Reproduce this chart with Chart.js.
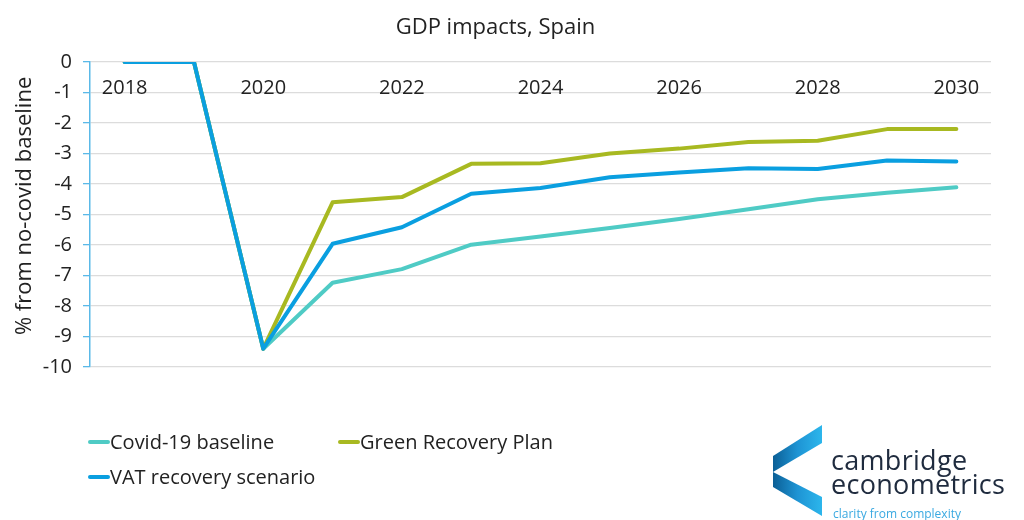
<!DOCTYPE html>
<html>
<head>
<meta charset="utf-8">
<script src="https://cdn.jsdelivr.net/npm/chart.js@4.4.0/dist/chart.umd.min.js"></script>
<style>
  html, body { margin: 0; padding: 0; background: #fff; }
  #wrap { position: relative; width: 1024px; height: 520px; overflow: hidden; font-family: "Open Sans", sans-serif; color: #222; }
  #wrap canvas { position: absolute; left: 0; top: 0; }
  .leg { position: absolute; display: flex; align-items: center; font-size: 20px; line-height: 24px; white-space: nowrap; }
  .leg i { display: inline-block; width: 22px; height: 4px; border-radius: 2px; }
  .logo-text { position: absolute; left: 831px; color: #1f2b3e; font-size: 27px; line-height: 28px; letter-spacing: 0.3px; white-space: nowrap; }
  .tagline { position: absolute; left: 833px; top: 506px; color: #3aa9e1; font-size: 12px; line-height: 16px; white-space: nowrap; }
</style>
</head>
<body>
<div id="wrap">
  <canvas id="gdpChart" width="1024" height="520"></canvas>

  <div class="leg" style="left:88px; top:430px;"><i style="background:#4fcbc5"></i>Covid-19 baseline</div>
  <div class="leg" style="left:338px; top:430px;"><i style="background:#a8b921"></i>Green Recovery Plan</div>
  <div class="leg" style="left:88px; top:465px;"><i style="background:#0a9fe0"></i>VAT recovery scenario</div>

  <svg style="position:absolute; left:770px; top:420px;" width="56" height="100" viewBox="0 0 56 100">
    <defs>
      <linearGradient id="g1" x1="0" y1="0" x2="1" y2="0">
        <stop offset="0" stop-color="#0b5f96"/>
        <stop offset="0.5" stop-color="#1e94d4"/>
        <stop offset="1" stop-color="#2cb6ec"/>
      </linearGradient>
    </defs>
    <polygon points="52,5 52,23 3,52 3,36" fill="url(#g1)"/>
    <polygon points="3,52 3,67 52,96 52,77" fill="url(#g1)"/>
  </svg>
  <div class="logo-text" style="top:446px;">cambridge</div>
  <div class="logo-text" style="top:470px;">econometrics</div>
  <div class="tagline">clarity from complexity</div>
</div>

<script>
var years = ['2018', '2019', '2020', '2021', '2022', '2023', '2024', '2025', '2026', '2027', '2028', '2029', '2030'];
var covidBaseline = [0, 0, -9.4, -7.24, -6.79, -5.99, -5.72, -5.44, -5.15, -4.83, -4.50, -4.29, -4.11];
var greenRecovery = [0, 0, -9.4, -4.60, -4.43, -3.34, -3.32, -3.00, -2.84, -2.62, -2.58, -2.20, -2.20];
var vatRecovery = [0, 0, -9.4, -5.96, -5.42, -4.32, -4.13, -3.78, -3.62, -3.48, -3.51, -3.23, -3.26];

var FONT = '"Open Sans", sans-serif';
var TEXT = '#222';

var ctx = document.getElementById('gdpChart').getContext('2d');

new Chart(ctx, {
    type: 'line',
    data: {
        labels: years,
        datasets: [{
            label: 'Covid-19 baseline',
            data: covidBaseline,
            borderColor: '#4fcbc5',
            order: 3
        }, {
            label: 'Green Recovery Plan',
            data: greenRecovery,
            borderColor: '#a8b921',
            order: 2
        }, {
            label: 'VAT recovery scenario',
            data: vatRecovery,
            borderColor: '#0a9fe0',
            order: 1
        }]
    },
    options: {
        responsive: false,
        animation: false,
        layout: {
            padding: { left: 0, right: 33, top: 0, bottom: 153 }
        },
        elements: {
            line: { borderWidth: 4, tension: 0, fill: false, borderCapStyle: 'round', borderJoinStyle: 'round' },
            point: { radius: 0, hoverRadius: 0 }
        },
        plugins: {
            legend: { display: false },
            tooltip: { enabled: false },
            title: {
                display: true,
                text: 'GDP impacts, Spain',
                color: TEXT,
                font: { family: FONT, size: 22, weight: 'normal' },
                padding: { top: 15, bottom: 20.6 }
            }
        },
        scales: {
            x: {
                type: 'category',
                position: { y: 0 },
                offset: true,
                grid: { display: false, drawTicks: false },
                border: { display: false },
                ticks: {
                    autoSkip: false,
                    maxRotation: 0,
                    color: TEXT,
                    padding: 14,
                    font: { family: FONT, size: 20 },
                    callback: function (v, i) { return i % 2 === 0 ? years[i] : ''; }
                }
            },
            y: {
                min: -10,
                max: 0,
                afterFit: function (scale) { scale.width = 90; },
                ticks: {
                    stepSize: 1,
                    color: TEXT,
                    padding: 11,
                    font: { family: FONT, size: 20 }
                },
                grid: { color: '#dcdcdc', lineWidth: 1.3, tickColor: '#5ab9e8', tickLength: 7 },
                border: { color: '#5ab9e8', width: 1.5 },
                title: {
                    display: true,
                    text: '   % from no-covid baseline',
                    color: TEXT,
                    font: { family: FONT, size: 22 },
                    padding: { top: 12, bottom: 0 }
                }
            }
        }
    }
});
</script>
</body>
</html>
